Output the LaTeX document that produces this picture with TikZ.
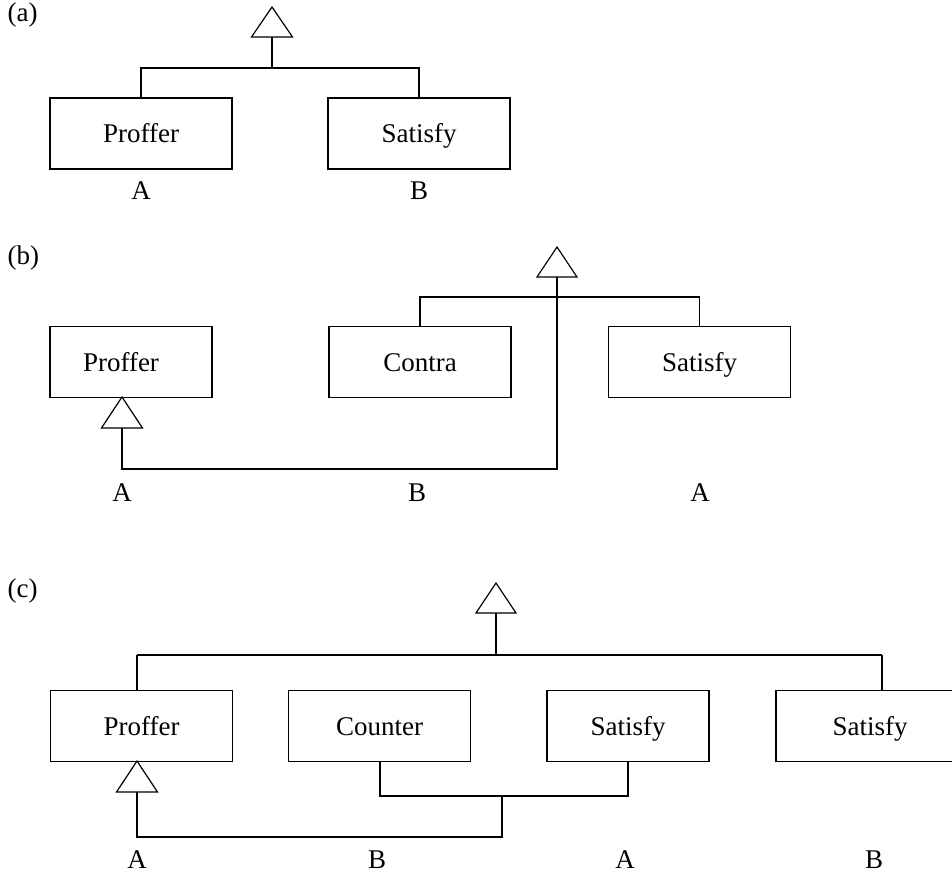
\documentclass[tikz,border=0pt]{standalone}
\usepackage{fontspec}
\setmainfont{Liberation Serif}
\begin{document}
\begin{tikzpicture}[x=1pt,y=-1pt,line width=1.2pt,
  every node/.style={font=\fontsize{27}{32}\selectfont},
  box/.style={draw,minimum height=71pt,inner sep=0pt,text height=18pt,text depth=0pt},
  wide/.style={box,minimum width=182pt},
  narrow/.style={box,minimum width=162pt},
  role/.style={anchor=base,inner sep=0pt},
  tag/.style={anchor=base west,inner sep=0pt},
  tri/.style={line join=miter}]
\useasboundingbox (0,0) rectangle (952,874);
\begin{scope}
\clip (0,0) rectangle (952,874);

% ---------------- (a) ----------------
\node[tag] (la) at (7,22) {(a)};
\node[wide] (a1) at (141,133.5) {Proffer};
\node[wide] (a2) at (419,133.5) {Satisfy};
\coordinate (at) at (272,7);
\draw[tri] (at) -- ++(-20.5,30) -- ++(41,0) -- cycle;
\coordinate (ab) at (272,37);
\coordinate (aj) at (272,68);
\draw (ab) -- (aj);
\draw (a1.north) |- (aj) -| (a2.north);
\node[role] (aA) at (141,200) {A};
\node[role] (aB) at (419,200) {B};

% ---------------- (b) ----------------
\node[tag] (lb) at (7,265) {(b)};
\node[narrow] (b1) at (131,362) {Proffer\hspace*{20pt}};
\node[wide] (b2) at (420,362) {Contra};
\node[wide] (b3) at (699.5,362) {Satisfy};
\coordinate (bt) at (557,247);
\draw[tri] (bt) -- ++(-20,30) -- ++(40,0) -- cycle;
\coordinate (bb) at (557,277);
\coordinate (bj) at (557,297);
\draw (b2.north) |- (bj) -| (b3.north);
\coordinate (bp) at (122,397);
\draw[tri] (bp) -- ++(-20.5,31) -- ++(41,0) -- cycle;
\coordinate (bpb) at (122,428);
\coordinate (bl) at (122,469);
\draw (bpb) -- (bl) -| (bb);
\node[role] (bA1) at (122,501) {A};
\node[role] (bB) at (417,501) {B};
\node[role] (bA2) at (700,501) {A};

% ---------------- (c) ----------------
\node[tag] (lc) at (7,597) {(c)};
\node[wide] (c1) at (141.5,726) {Proffer};
\node[wide] (c2) at (379.5,726) {Counter};
\node[narrow] (c3) at (628,726) {Satisfy};
\node[wide] (c4) at (867,726) {\hspace*{6pt}Satisfy};
\coordinate (ct) at (496,583);
\draw[tri] (ct) -- ++(-20,30) -- ++(40,0) -- cycle;
\coordinate (cb) at (496,613);
\coordinate (cj) at (496,655);
\draw (cb) -- (cj);
\coordinate (cl) at (137,655);
\coordinate (cr) at (882,655);
\draw (cl) -- (cr);
\draw (cl) -- (cl |- c1.north);
\draw (cr) -- (cr |- c4.north);
% joint of Counter and Satisfy
\coordinate (cq1) at (380,796);
\coordinate (cq2) at (628,796);
\draw (cq1 |- c2.south) -- (cq1) -- (cq2) -- (c3.south);
\coordinate (cm) at (502,796);
\coordinate (cd) at (502,837);
\coordinate (cp) at (137,761);
\draw[tri] (cp) -- ++(-20.5,31) -- ++(41,0) -- cycle;
\coordinate (cpb) at (137,792);
\draw (cm) -- (cd) -| (cpb);
\node[role] (cA1) at (137,868) {A};
\node[role] (cB1) at (377,868) {B};
\node[role] (cA2) at (625,868) {A};
\node[role] (cB2) at (874,868) {B};
\end{scope}
\end{tikzpicture}
\end{document}
